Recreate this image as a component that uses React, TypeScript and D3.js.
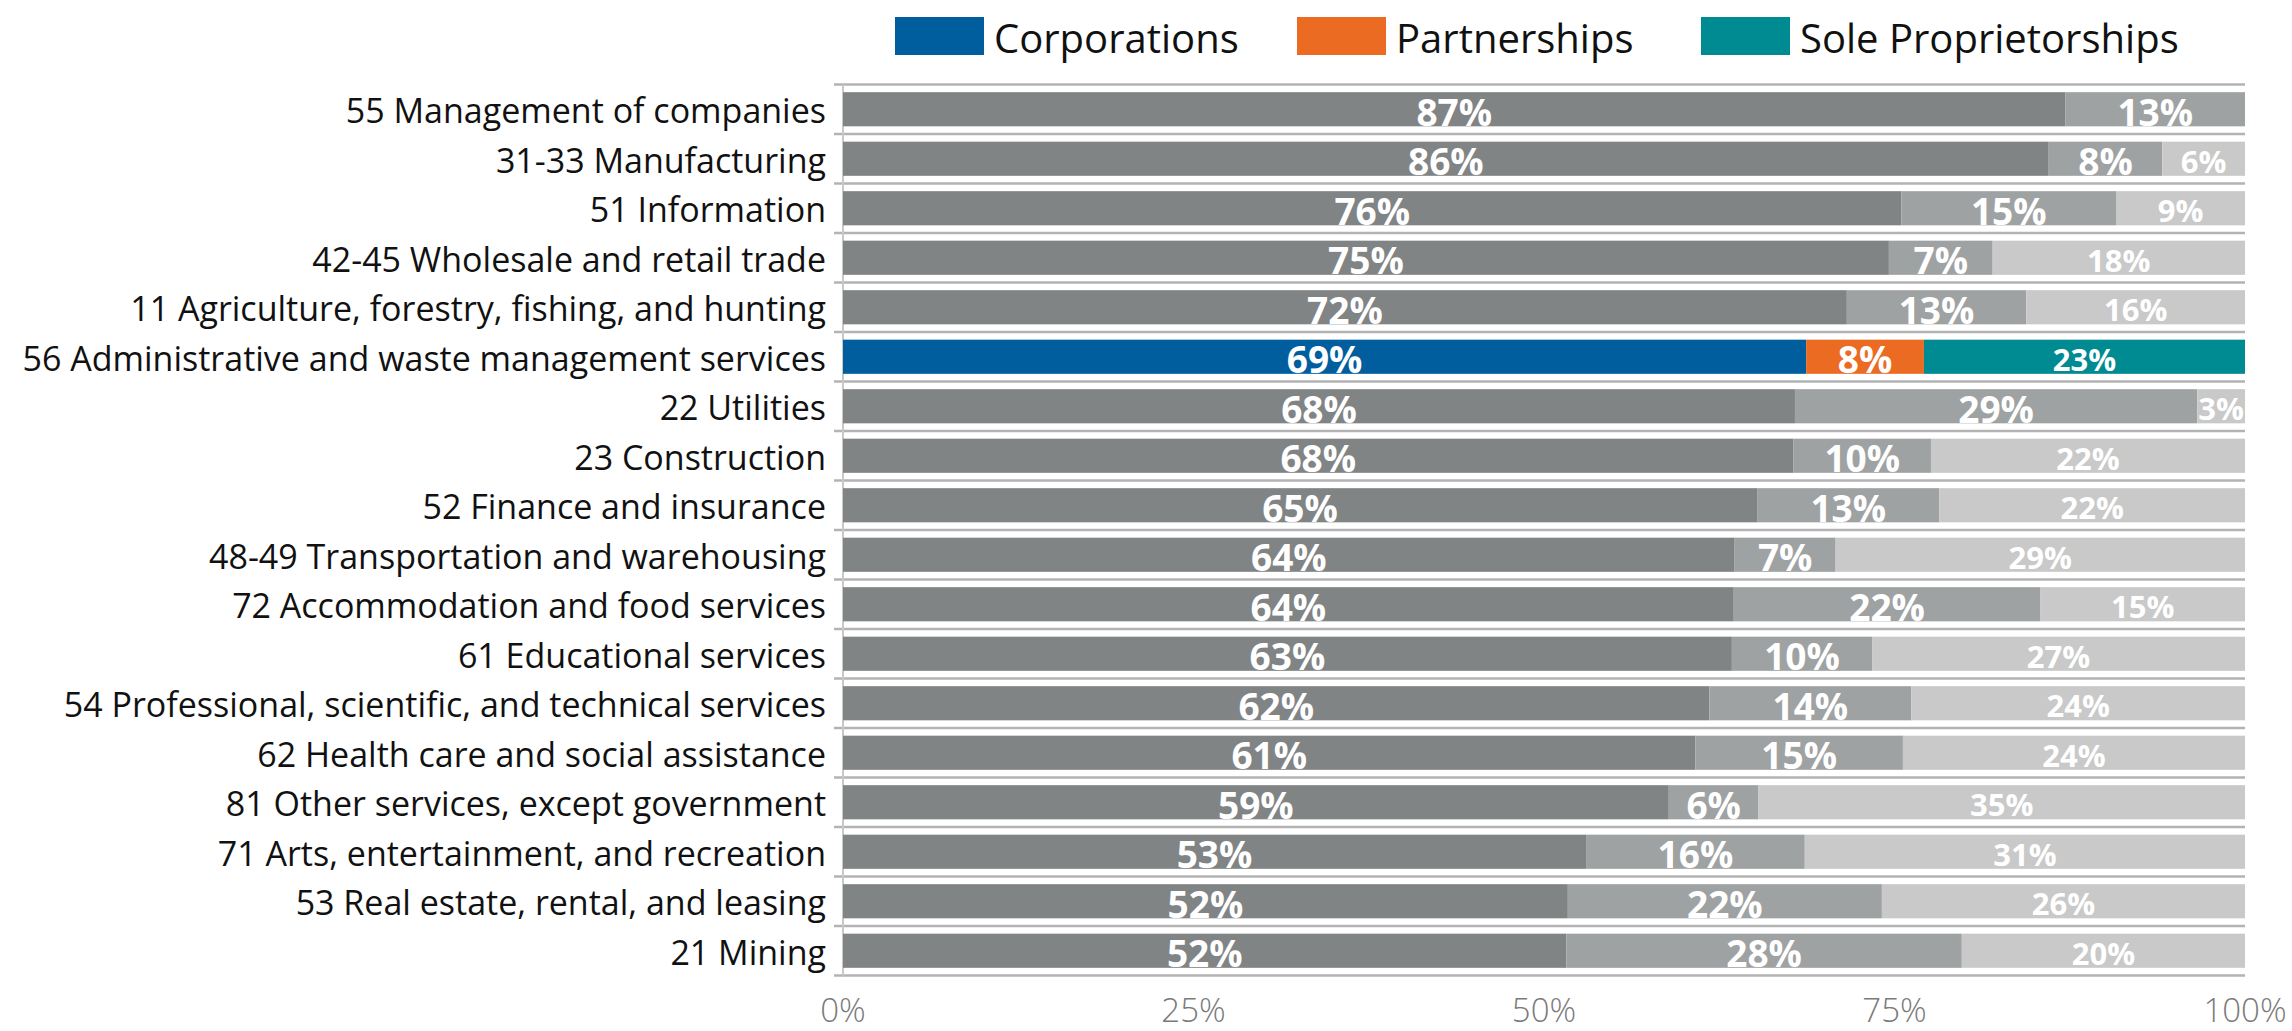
import React from "react";
import * as d3 from "d3";

const categories = [
  "55 Management of companies",
  "31-33 Manufacturing",
  "51 Information",
  "42-45 Wholesale and retail trade",
  "11 Agriculture, forestry, fishing, and hunting",
  "56 Administrative and waste management services",
  "22 Utilities",
  "23 Construction",
  "52 Finance and insurance",
  "48-49 Transportation and warehousing",
  "72 Accommodation and food services",
  "61 Educational services",
  "54 Professional, scientific, and technical services",
  "62 Health care and social assistance",
  "81 Other services, except government",
  "71 Arts, entertainment, and recreation",
  "53 Real estate, rental, and leasing",
  "21 Mining",
];

const corporations = [87.2, 86.0, 75.5, 74.6, 71.6, 68.7, 67.9, 67.8, 65.2, 63.6, 63.6, 63.4, 61.8, 60.8, 58.9, 53.0, 51.7, 51.6];
const partnerships = [12.8, 8.1, 15.3, 7.4, 12.8, 8.4, 28.7, 9.8, 13.0, 7.2, 21.9, 10.0, 14.4, 14.8, 6.4, 15.6, 22.4, 28.2];
const soleProprietorships = [0, 5.9, 9.2, 18.0, 15.6, 22.9, 3.4, 22.4, 21.8, 29.2, 14.6, 26.6, 23.8, 24.4, 34.7, 31.4, 25.9, 20.2];

const seriesNames = ["Corporations", "Partnerships", "Sole Proprietorships"];
const highlightCategory = "56 Administrative and waste management services";
const xTickValues = [0, 25, 50, 75, 100];

const greyColors = ["#818485", "#9fa2a3", "#c8c9c8"];
const highlightColors = ["#005e9f", "#ec6b23", "#008a91"];

const W = 2292;
const H = 1031;
const M = { left: 843, right: 2245, top: 84.5, bottom: 975.5 };

const FONT = "'Open Sans', 'Noto Sans', sans-serif";

export default function App() {
  const rows = categories.map((c, i) => ({
    category: c,
    Corporations: corporations[i],
    Partnerships: partnerships[i],
    "Sole Proprietorships": soleProprietorships[i],
  }));

  const stacked = d3
    .stack<any>()
    .keys(seriesNames)
    .offset(d3.stackOffsetExpand)(rows);

  const x = d3.scaleLinear().domain([0, 1]).range([M.left, M.right]);
  const y = d3
    .scaleBand<string>()
    .domain(categories)
    .range([M.top, M.bottom])
    .paddingInner(0.31)
    .paddingOuter(0.155);

  const step = y.step();
  const boundaries = d3.range(categories.length + 1).map((i) => M.top + i * step);
  const xAxisTicks = xTickValues.map((v) => v / 100);

  const legendX = [895, 1297, 1701];

  return (
    <svg
      width={W}
      height={H}
      style={{ position: "absolute", left: 0, top: 0, background: "#fff" }}
      fontFamily={FONT}
    >
      {/* Legend */}
      {seriesNames.map((name, i) => (
        <g key={name} transform={`translate(${legendX[i]},17)`}>
          <rect width={89} height={38} fill={highlightColors[i]} />
          <text x={99} y={20} dominantBaseline="central" fontSize={40} fill="#111">
            {name}
          </text>
        </g>
      ))}

      {/* Gridlines at row boundaries */}
      {boundaries.map((b, i) => (
        <line key={"g" + i} x1={834} x2={M.right} y1={b} y2={b} stroke="#b3b3b3" strokeWidth={2.5} />
      ))}
      <line x1={M.left} x2={M.left} y1={M.top} y2={M.bottom} stroke="#c8c8c8" strokeWidth={2} />

      {/* Bars */}
      {stacked.map((series, si) =>
        series.map((d: any, ri: number) => {
          const cat = d.data.category;
          const isHi = cat === highlightCategory;
          const x0 = x(d[0]);
          const x1 = x(d[1]);
          const w = x1 - x0;
          if (w <= 0) return null;
          return (
            <rect
              key={`${si}-${ri}`}
              x={x0}
              y={y(cat)}
              width={w}
              height={y.bandwidth()}
              fill={isHi ? highlightColors[si] : greyColors[si]}
            />
          );
        })
      )}

      {/* Value labels */}
      {stacked.map((series, si) =>
        series.map((d: any, ri: number) => {
          const raw = [corporations, partnerships, soleProprietorships][si][ri];
          if (raw <= 0) return null;
          const cat = d.data.category;
          const cx = (x(d[0]) + x(d[1])) / 2;
          const cy = (y(cat) as number) + y.bandwidth() / 2 + 2;
          const big = si < 2;
          return (
            <text
              key={`l${si}-${ri}`}
              x={cx}
              y={cy}
              textAnchor="middle"
              dominantBaseline="central"
              fontSize={big ? 37 : 31}
              fontWeight={700}
              fill="#fff"
            >
              {`${Math.round(raw)}%`}
            </text>
          );
        })
      )}

      {/* Category labels */}
      {categories.map((c) => (
        <text
          key={c}
          x={826}
          y={(y(c) as number) + y.bandwidth() / 2 + 1}
          textAnchor="end"
          dominantBaseline="central"
          fontSize={34}
          fill="#111"
        >
          {c}
        </text>
      ))}

      {/* X axis labels */}
      {xAxisTicks.map((t) => (
        <text
          key={t}
          x={x(t)}
          y={1009}
          textAnchor="middle"
          dominantBaseline="central"
          fontSize={33}
          fontWeight={300}
          fill="#7a7a7a"
        >
          {`${Math.round(t * 100)}%`}
        </text>
      ))}
    </svg>
  );
}
